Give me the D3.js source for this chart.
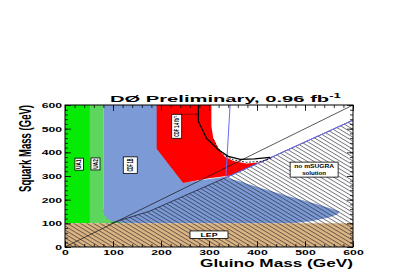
<!DOCTYPE html>
<html>
<head>
<meta charset="utf-8">
<script src="https://cdn.jsdelivr.net/npm/d3@7"></script>
<style>
  body { margin: 0; background: #fff; }
  svg { display: block; }
  text { font-family: "Liberation Sans", Arial, sans-serif; font-weight: bold; }
</style>
</head>
<body>
<script>
// axis ticks (GeV)
const xTicks = [0, 100, 200, 300, 400, 500, 600]
const yTicks = [0, 100, 200, 300, 400, 500, 600]

// excluded regions, [gluino, squark] in GeV
const ua1 = [[0, 100], [0, 600], [52, 600], [52, 100]]
const ua2 = [[52, 100], [52, 600], [80, 600], [80, 160], [140, 100]]
const cdf1b = [[80, 600], [200, 600], [200, 400], [246, 272], [330, 296], [360, 280], [406, 250],
  [460, 218], [520, 184], [556, 162], [572, 150], [568, 138], [550, 125], [515, 110], [475, 100],
  [135, 100], [115, 103], [97, 110], [88, 118], [82, 135], [80, 156]]
const d0 = [[191, 600], [305, 600], [305, 510], [309, 459], [319, 417], [333, 381], [351, 363],
  [378, 353], [410, 358], [433, 382], [345, 302], [300, 290], [246, 270], [191, 415]]
const lep = [[0, 0], [0, 100], [600, 100], [600, 0]]
const noSolEdge = [[95, 100], [177, 152], [417, 367], [600, 536]]
const noSol = noSolEdge.concat([[600, 100]])

// lines
const diag = [[0, 0], [600, 600]]
const blueLine = [[344, 600], [335, 293], [417, 367], [600, 536]]
const cdf14 = [[278, 600], [278, 530], [295, 459], [319, 412], [340, 383], [365, 370], [395, 372], [427, 379]]
const cdf14dash = [[309, 455], [319, 418], [333, 386], [351, 368], [378, 358], [410, 362], [430, 376]]

// boxed labels: text, centre in GeV, rotated?
const labels = [
  { t: ['UA1'], x: 29.5, y: 350, w: 8.5, h: 12, rot: true, len: 9.5, th: 4.5 },
  { t: ['UA2'], x: 63.5, y: 351, w: 9, h: 12, rot: true, len: 9.5, th: 4.5 },
  { t: ['CDF 1B'], x: 136, y: 346, w: 14, h: 16.5, rot: true, len: 13, th: 6 },
  { t: ['CDF 1.4 fb\u207B\u00B9'], x: 232.7, y: 510, w: 10, h: 24, rot: true, len: 21, th: 5.5 },
  { t: ['no mSUGRA', 'solution'], x: 519, y: 327, w: 48, h: 15, rot: false, len: [40, 24], th: 3.8 },
  { t: ['LEP'], x: 300, y: 52, w: 38, h: 7.5, rot: false, len: [17], th: 4 }
]

const W = 415, H = 276
const x = d3.scaleLinear().domain([0, 600]).range([65, 353])
const y = d3.scaleLinear().domain([0, 600]).range([247, 105])
const line = d3.line().x(d => x(d[0])).y(d => y(d[1]))
const poly = pts => line(pts) + 'Z'

const svg = d3.select('body').append('svg').attr('width', W).attr('height', H)

const defs = svg.append('defs')
defs.append('clipPath').attr('id', 'clip')
  .append('rect').attr('x', 65).attr('y', 105).attr('width', 288).attr('height', 142)
const pat = defs.append('pattern').attr('id', 'hatch')
  .attr('patternUnits', 'userSpaceOnUse').attr('width', 12).attr('height', 3.4)
  .attr('patternTransform', 'rotate(31)')
pat.append('line').attr('x1', 0).attr('x2', 12).attr('y1', 0.5).attr('y2', 0.5)
  .attr('stroke', '#1a1a2a').attr('stroke-width', 0.6)

const g = svg.append('g').attr('clip-path', 'url(#clip)')

g.append('path').attr('d', poly(ua1)).attr('fill', '#05eb05')
g.append('path').attr('d', poly(ua2)).attr('fill', '#5cd65c')
g.append('path').attr('d', poly(cdf1b)).attr('fill', '#7c9bd6')
g.append('path').attr('d', poly(d0)).attr('fill', '#fe0000')
g.append('path').attr('d', poly(lep)).attr('fill', '#dcb582')
g.append('path').attr('d', poly(lep)).attr('fill', 'url(#hatch)')
g.append('path').attr('d', poly(noSol)).attr('fill', 'url(#hatch)')

g.append('path').attr('d', line(diag)).attr('fill', 'none').attr('stroke', '#111').attr('stroke-width', 0.7)
g.append('path').attr('d', line(noSolEdge)).attr('fill', 'none').attr('stroke', '#223').attr('stroke-width', 0.8)
g.append('path').attr('d', line(blueLine)).attr('fill', 'none').attr('stroke', '#6b6bf5').attr('stroke-width', 1)
g.append('path').attr('d', line(cdf14dash)).attr('fill', 'none').attr('stroke', '#000')
  .attr('stroke-width', 0.8).attr('stroke-dasharray', '2,1.5')
g.append('path').attr('d', line(cdf14)).attr('fill', 'none').attr('stroke', '#000').attr('stroke-width', 1.2)

// arrow from CDF 1.4 label to its line
g.append('line').attr('x1', x(243)).attr('x2', x(276)).attr('y1', y(561)).attr('y2', y(561))
  .attr('stroke', '#800').attr('stroke-width', 0.8)
g.append('path').attr('d', `M${x(278)},${y(561)}l-3,-1.5v3z`).attr('fill', '#800')

// boxed labels
labels.forEach(L => {
  const cx = x(L.x), cy = y(L.y)
  svg.append('rect').attr('x', cx - L.w / 2).attr('y', cy - L.h / 2)
    .attr('width', L.w).attr('height', L.h)
    .attr('fill', '#fff').attr('stroke', '#000').attr('stroke-width', 0.8)
  const fs = 5
  const sx = L.th / (0.716 * fs)
  if (L.rot) {
    svg.append('text').text(L.t[0])
      .attr('transform', `translate(${cx + L.th / 2},${cy}) scale(${sx},1) rotate(-90)`)
      .attr('text-anchor', 'middle').attr('font-size', fs)
      .attr('textLength', L.len).attr('lengthAdjust', 'spacingAndGlyphs')
  } else {
    const n = L.t.length
    L.t.forEach((s, i) => {
      const by = cy + L.th / 2 + (i - (n - 1) / 2) * (L.h / n)
      svg.append('text').text(s)
        .attr('transform', `translate(${cx},${by}) scale(1,${L.th / (0.716 * fs)})`)
        .attr('text-anchor', 'middle').attr('font-size', fs)
        .attr('textLength', L.len[i]).attr('lengthAdjust', 'spacingAndGlyphs')
    })
  }
})

// frame
svg.append('rect').attr('x', 65).attr('y', 105).attr('width', 288).attr('height', 142)
  .attr('fill', 'none').attr('stroke', '#000').attr('stroke-width', 1)

// axes, ROOT style ticks inside
const sx = 1.65
const minor = d3.range(0, 601, 20)
const axes = svg.append('g')
const ax = (gen, tx, ty, vals, size, labelsOn) => {
  const a = axes.append('g').attr('transform', `translate(${tx},${ty})`)
    .call(gen.tickValues(vals).tickSizeInner(-size).tickSizeOuter(0).tickPadding(3)
      .tickFormat(labelsOn ? d3.format('d') : ''))
  a.select('.domain').remove()
  a.selectAll('line').attr('stroke', '#000').attr('stroke-width', 0.8)
  return a
}
ax(d3.axisBottom(x), 0, 247, minor, 3, false)
ax(d3.axisTop(x), 0, 105, minor, 3, false)
ax(d3.axisLeft(y), 65, 0, minor, 3, false)
ax(d3.axisRight(y), 353, 0, minor, 3, false)
ax(d3.axisTop(x), 0, 105, xTicks, 6, false)
ax(d3.axisRight(y), 353, 0, yTicks, 6, false)
const bx = ax(d3.axisBottom(x), 0, 247, xTicks, 6, true)
bx.selectAll('text').attr('font-size', 7.4).attr('font-family', '"Liberation Sans", Arial, sans-serif')
  .attr('font-weight', 'bold').attr('fill', '#000').attr('transform', `scale(${sx},1)`)
const ly = ax(d3.axisLeft(y), 65, 0, yTicks, 6, true)
ly.selectAll('text').attr('font-size', 7.4).attr('font-family', '"Liberation Sans", Arial, sans-serif')
  .attr('font-weight', 'bold').attr('fill', '#000').attr('x', -3 / sx).attr('transform', `scale(${sx},1)`)

// title
const title = svg.append('text').attr('font-size', 9.8)
title.append('tspan').text('DØ Preliminary, 0.96 fb')
title.append('tspan').text('-1').attr('font-size', 6.4).attr('dy', -4)
const tl = title.node().getComputedTextLength()
title.attr('transform', `translate(110,101.5) scale(${231 / tl},1)`)

// axis titles
const xt = svg.append('text').text('Gluino Mass (GeV)').attr('font-size', 11).attr('text-anchor', 'end')
const xl = xt.node().getComputedTextLength()
xt.attr('transform', `translate(353,266.5) scale(${153 / xl},1)`)

svg.append('text').text('Squark Mass (GeV)').attr('font-size', 9).attr('text-anchor', 'middle')
  .attr('textLength', 87).attr('lengthAdjust', 'spacingAndGlyphs')
  .attr('transform', `translate(31,148.5) scale(1.75,1) rotate(-90)`)
</script>
</body>
</html>
